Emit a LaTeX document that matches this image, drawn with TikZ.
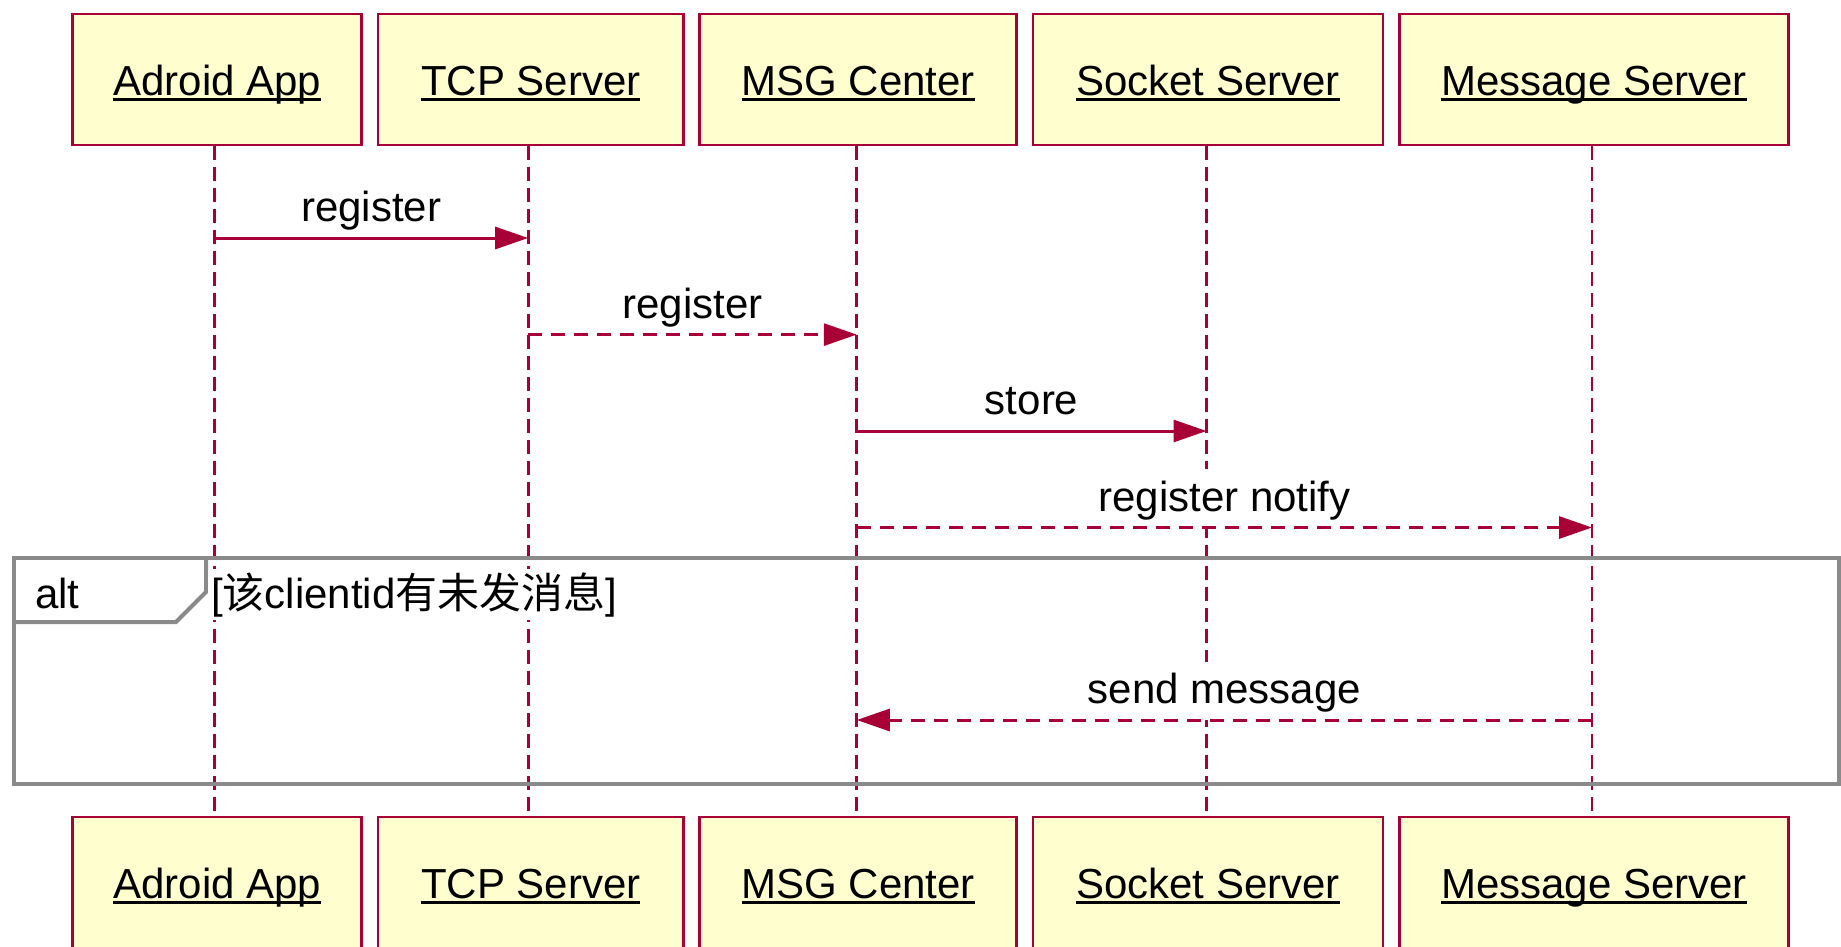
\documentclass[tikz,border=0pt]{standalone}
\usepackage{fontspec}
\setmainfont{Liberation Sans}
\newfontfamily\cjk{Noto Sans CJK SC}
\usetikzlibrary{arrows.meta,calc}
\definecolor{pred}{HTML}{A80036}
\definecolor{pfill}{HTML}{FEFECE}
\definecolor{fgray}{HTML}{8A8A8A}
\newcommand\ulbox[1]{\setbox0\hbox{#1}\rlap{\rule[-5.5pt]{\wd0}{2.8pt}}\box0}
\begin{document}
\begin{tikzpicture}[x=1pt,y=-1pt,
  part/.style={draw=pred, fill=pfill, line width=2.8pt, minimum height=131pt,
    inner sep=0pt, text height=31pt, text depth=0pt, font=\fontsize{42}{50}\selectfont},
  life/.style={draw=pred, line width=2.8pt, dash pattern=on 14pt off 7pt},
  msg/.style={draw=pred, line width=3pt, -{Triangle[length=33pt,width=22pt]}},
  rmsg/.style={msg, dash pattern=on 14pt off 9pt},
  lbl/.style={font=\fontsize{42}{50}\selectfont, anchor=base, fill=white,
    text height=38pt, text depth=12pt, inner xsep=2pt, inner ysep=4pt},
  framestyle/.style={draw=fgray, line width=4pt},
  cond/.style={font=\fontsize{42}{50}\selectfont, fill=white, inner sep=3pt}]

\useasboundingbox (0,0) rectangle (1841,946);

% participants (top)
\node[part, minimum width=288.8pt] (tA) at (217.2,79.5) {\ulbox{Adroid App}};
\node[part, minimum width=305.3pt] (tT) at (530.7,79.5) {\ulbox{TCP Server}};
\node[part, minimum width=317pt]   (tM) at (858.3,79.5) {\ulbox{MSG Center}};
\node[part, minimum width=350pt]   (tS) at (1208,79.5) {\ulbox{Socket Server}};
\node[part, minimum width=389pt]   (tG) at (1594,79.5) {\ulbox{Message Server}};
% participants (bottom)
\node[part, minimum width=288.8pt] (bA) at (217.2,882.5) {\ulbox{Adroid App}};
\node[part, minimum width=305.3pt] (bT) at (530.7,882.5) {\ulbox{TCP Server}};
\node[part, minimum width=317pt]   (bM) at (858.3,882.5) {\ulbox{MSG Center}};
\node[part, minimum width=350pt]   (bS) at (1208,882.5) {\ulbox{Socket Server}};
\node[part, minimum width=389pt]   (bG) at (1594,882.5) {\ulbox{Message Server}};

% lifeline positions
\coordinate (LA) at ($(tA.south)+(-3,0)$);
\coordinate (LT) at ($(tT.south)+(-2.5,0)$);
\coordinate (LM) at ($(tM.south)+(-1.5,0)$);
\coordinate (LS) at ($(tS.south)+(-1.5,0)$);
\coordinate (LG) at ($(tG.south)+(-2,0)$);

% lifelines
\draw[life] (LA) -- (LA |- bA.north);
\draw[life] (LT) -- (LT |- bT.north);
\draw[life] (LM) -- (LM |- bM.north);
\draw[life] (LS) -- (LS |- bS.north);
\draw[life] (LG) -- (LG |- bG.north);

% alt frame
\coordinate (fTL) at (14,558);
\coordinate (fBR) at (1839,784);
\draw[framestyle] (fTL) rectangle (fBR);
\draw[framestyle] (14,622) -- (176,622) -- (206,592) -- (206,558);
\node[font=\fontsize{42}{50}\selectfont, anchor=base west, inner sep=0pt] (altlbl) at (35,608) {alt};
\node[cond, anchor=base west] (condlbl) at (208,608) {[{\cjk 该}clientid{\cjk 有未发消息}]};

% message end points
\coordinate (m1a) at (LA |- 0,238);
\coordinate (m1b) at (LT |- 0,238);
\coordinate (m2a) at (LT |- 0,334.6);
\coordinate (m2b) at (LM |- 0,334.6);
\coordinate (m3a) at (LM |- 0,431);
\coordinate (m3b) at (LS |- 0,431);
\coordinate (m4a) at (LM |- 0,527.5);
\coordinate (m4b) at (LG |- 0,527.5);
\coordinate (m5a) at (LG |- 0,720);
\coordinate (m5b) at (LM |- 0,720);

% labels
\node[lbl] (l1) at ($(m1a)!0.5!(m1b)+(0,-16.5)$) {register};
\node[lbl] (l2) at ($(m2a)!0.5!(m2b)+(0,-16.5)$) {register};
\node[lbl] (l3) at ($(m3a)!0.5!(m3b)+(0,-16.5)$) {store};
\node[lbl] (l4) at ($(m4a)!0.5!(m4b)+(0,-16.5)$) {register notify};
\node[lbl] (l5) at ($(m5a)!0.5!(m5b)+(0,-16.5)$) {send message};

% messages
\draw[msg]  (m1a) -- (m1b);
\draw[rmsg] (m2a) -- (m2b);
\draw[msg]  (m3a) -- (m3b);
\draw[rmsg] (m4a) -- (m4b);
\draw[rmsg] (m5a) -- (m5b);
\end{tikzpicture}
\end{document}
